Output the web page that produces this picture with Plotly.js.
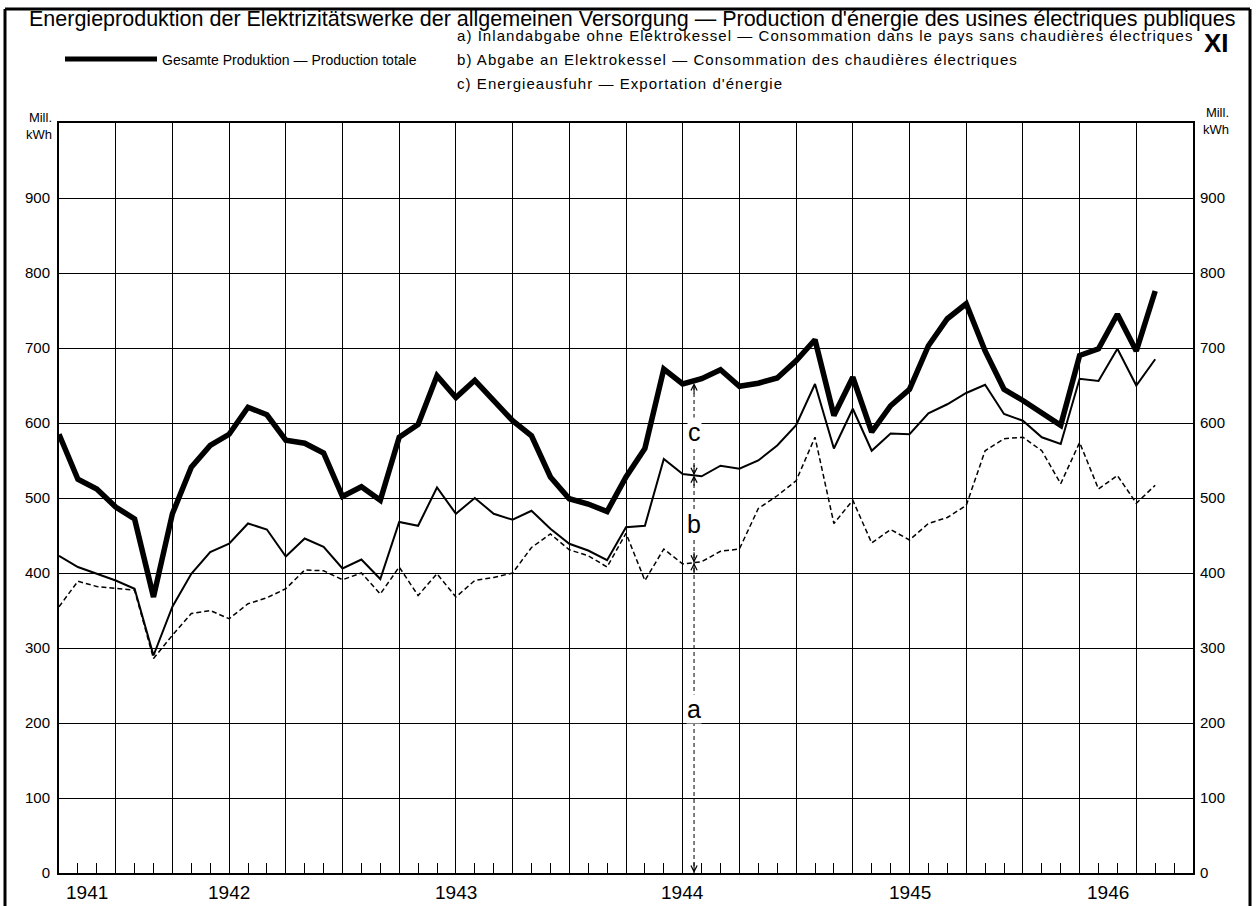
<!DOCTYPE html>
<html>
<head>
<meta charset="utf-8">
<script src="https://cdn.plot.ly/plotly-3.0.1.min.js"></script>
<style>
html,body{margin:0;padding:0;background:#fff;}
#chart{width:1259px;height:906px;}
</style>
</head>
<body>
<div id="chart"></div>
<script>
// Month index (0 = first month shown, one point per month)
const months = [0,1,2,3,4,5,6,7,8,9,10,11,12,13,14,15,16,17,18,19,20,21,22,23,24,25,26,27,28,29,30,31,32,33,34,35,36,37,38,39,40,41,42,43,44,45,46,47,48,49,50,51,52,53,54,55,56,57,58];
// Gesamte Produktion — Production totale (Mill. kWh)
const totalProduction = [585,525,512,488,472,368,479,541,570,585,621,611,577,573,560,502,515,497,581,598,663,634,657,630,603,583,528,499,492,482,528,566,672,652,659,671,649,653,660,683,711,610,661,588,623,645,703,739,759,696,645,630,614,597,690,699,745,696,776];
// a + b: Inlandabgabe + Abgabe an Elektrokessel
const inlandPlusBoilers = [423,408,399,390,379,290,355,399,428,439,466,458,422,446,435,406,418,392,468,463,514,479,500,479,471,483,459,439,430,417,461,463,552,532,529,543,539,550,570,597,652,566,619,563,586,585,613,625,640,651,612,603,581,572,659,656,699,650,685];
// a: Inlandabgabe ohne Elektrokessel
const inlandWithoutBoilers = [355,389,382,379,377,286,317,346,350,339,359,367,379,404,403,391,400,372,408,370,399,368,390,394,400,434,452,431,423,408,453,390,432,412,415,429,432,486,503,523,581,466,497,440,458,444,466,474,490,563,579,581,563,519,574,512,530,493,517];

const yearLabels = ['1941','1942','1943','1944','1945','1946'];
const yTickValues = [0,100,200,300,400,500,600,700,800,900];
const yTickLabels = ['0','100','200','300','400','500','600','700','800','900'];

const titleText = 'Energieproduktion der Elektrizitätswerke der allgemeinen Versorgung — Production d\'énergie des usines électriques publiques';
const legendTotal = 'Gesamte Produktion — Production totale';
const legendA = 'a) Inlandabgabe ohne Elektrokessel — Consommation dans le pays sans chaudières électriques';
const legendB = 'b) Abgabe an Elektrokessel — Consommation des chaudières électriques';
const legendC = 'c) Energieausfuhr — Exportation d\'énergie';
const plateNumber = 'XI';
const unitText = 'Mill.<br>kWh';

// layout geometry
const W = 1259, H = 906;
const M = {l:59, r:66, t:123, b:33};
const PW = W - M.l - M.r, PH = H - M.t - M.b;
const px = x => (x - M.l) / PW;
const py = y => (H - M.b - y) / PH;
const XMAX = 60;
const firstYearStart = 3; // month index where the "1942" year begins

const FONT = 'Liberation Sans, Arial, Helvetica, sans-serif';

const traces = [
  {x: months, y: inlandWithoutBoilers, mode:'lines', line:{color:'#000', width:1.5, dash:'5px,3px'}, hoverinfo:'skip', showlegend:false},
  {x: months, y: inlandPlusBoilers, mode:'lines', line:{color:'#000', width:2}, hoverinfo:'skip', showlegend:false},
  {x: months, y: totalProduction, mode:'lines', line:{color:'#000', width:5.5}, hoverinfo:'skip', showlegend:false},
  {x: [0], y: [0], yaxis:'y2', mode:'markers', marker:{opacity:0}, hoverinfo:'skip', showlegend:false}
];

const annotations = [];
const shapes = [];

// title and legend texts
annotations.push({xref:'paper', yref:'paper', x:px(27), y:py(19), xanchor:'left', yanchor:'middle', text:titleText, showarrow:false, font:{family:FONT, size:21.5, color:'#000'}});
annotations.push({xref:'paper', yref:'paper', x:px(160), y:py(60), xanchor:'left', yanchor:'middle', text:legendTotal, showarrow:false, font:{family:FONT, size:14, color:'#000'}});
const spaced = [legendA, legendB, legendC];
annotations.push({xref:'paper', yref:'paper', x:px(455), y:py(36), xanchor:'left', yanchor:'middle', text:legendA, showarrow:false, font:{family:FONT, size:15, color:'#000'}});
annotations.push({xref:'paper', yref:'paper', x:px(455), y:py(60), xanchor:'left', yanchor:'middle', text:legendB, showarrow:false, font:{family:FONT, size:15, color:'#000'}});
annotations.push({xref:'paper', yref:'paper', x:px(455), y:py(84), xanchor:'left', yanchor:'middle', text:legendC, showarrow:false, font:{family:FONT, size:15, color:'#000'}});
annotations.push({xref:'paper', yref:'paper', x:px(1216), y:py(43), xanchor:'center', yanchor:'middle', text:'<b>'+plateNumber+'</b>', showarrow:false, font:{family:FONT, size:26, color:'#000'}});
annotations.push({xref:'paper', yref:'paper', x:px(54), y:py(126), xanchor:'right', yanchor:'middle', text:unitText, showarrow:false, align:'right', font:{family:FONT, size:13, color:'#000'}});
annotations.push({xref:'paper', yref:'paper', x:px(1201), y:py(121), xanchor:'left', yanchor:'middle', text:unitText, showarrow:false, align:'right', font:{family:FONT, size:13, color:'#000'}});

// legend sample line
shapes.push({type:'line', xref:'paper', yref:'paper', x0:px(65), x1:px(157), y0:py(59), y1:py(59), line:{color:'#000', width:5}});

// outer frame (four sides)
const fL = px(5), fR = px(1250), fT = py(9), fB = py(920);
shapes.push({type:'line', xref:'paper', yref:'paper', x0:fL, x1:fR, y0:fT, y1:fT, line:{color:'#000', width:3}});
shapes.push({type:'line', xref:'paper', yref:'paper', x0:fL, x1:fL, y0:fT, y1:fB, line:{color:'#000', width:3}});
shapes.push({type:'line', xref:'paper', yref:'paper', x0:fR, x1:fR, y0:fT, y1:fB, line:{color:'#000', width:3}});

// year labels, centred on visible part of each year
yearLabels.forEach((lbl, i) => {
  const s = firstYearStart + 12*(i-1);
  const a = Math.max(0, s), b = Math.min(XMAX, s+12);
  annotations.push({xref:'x', yref:'paper', x:(a+b)/2, y:py(892), xanchor:'center', yanchor:'middle', text:lbl, showarrow:false, font:{family:FONT, size:19, color:'#000'}});
});

// measuring arrow with a / b / c
const markerMonth = 33.6;
const interp = arr => { const i = Math.floor(markerMonth), f = markerMonth - i; return arr[i] + f*(arr[i+1]-arr[i]); };
const vTop = interp(totalProduction) - 3;
const vMid = interp(inlandPlusBoilers);
const vLow = interp(inlandWithoutBoilers);
shapes.push({type:'line', xref:'x', yref:'y', x0:markerMonth, x1:markerMonth, y0:0, y1:vTop, line:{color:'#000', width:1, dash:'4px,3px'}});
const arrowAt = (v, dir) => annotations.push({xref:'x', yref:'y', x:markerMonth, y:v, ax:0, ay:dir*12, text:'', showarrow:true, arrowhead:5, arrowsize:1.1, arrowwidth:1.1, arrowcolor:'#000', standoff:0});
arrowAt(vTop, 1);
arrowAt(vMid, -1); arrowAt(vMid, 1);
arrowAt(vLow, -1); arrowAt(vLow, 1);
arrowAt(0, -1);
const segLabel = (t, v) => annotations.push({xref:'x', yref:'y', x:markerMonth, y:v, text:t, showarrow:false, bgcolor:'#fff', borderpad:0, font:{family:FONT, size:25, color:'#000'}});
segLabel('c', (vTop+vMid)/2 - 4);
segLabel('b', (vMid+vLow)/2 - 6);
segLabel('a', vLow*0.53);

const layout = {
  width: W, height: H,
  margin: M,
  paper_bgcolor:'#fff', plot_bgcolor:'#fff',
  showlegend:false,
  font:{family:FONT, color:'#000'},
  xaxis:{
    range:[0, XMAX], tick0:0, dtick:3, showticklabels:false,
    showgrid:true, gridcolor:'#000', gridwidth:1,
    ticks:'inside', ticklen:10, tickcolor:'#000', tickwidth:1,
    minor:{tick0:0, dtick:1, ticks:'inside', ticklen:10, tickcolor:'#000', tickwidth:1, showgrid:false},
    showline:true, linecolor:'#000', linewidth:2, mirror:true, zeroline:false, fixedrange:true
  },
  yaxis:{
    range:[0,1000], tickmode:'array', tickvals:yTickValues, ticktext:yTickLabels,
    showgrid:true, gridcolor:'#000', gridwidth:1, ticks:'', ticklabelstandoff:4,
    tickfont:{family:FONT, size:15, color:'#000'},
    showline:true, linecolor:'#000', linewidth:2, mirror:true, zeroline:false, fixedrange:true
  },
  yaxis2:{
    overlaying:'y', side:'right', range:[0,1000], tickmode:'array', tickvals:yTickValues, ticktext:yTickLabels,
    showgrid:false, ticks:'', ticklabelstandoff:6, tickfont:{family:FONT, size:15, color:'#000'},
    showline:false, zeroline:false, fixedrange:true
  },
  annotations: annotations,
  shapes: shapes
};

Plotly.newPlot('chart', traces, layout, {displayModeBar:false, staticPlot:true}).then(gd => {
  // the printed a/b/c legend lines are letter-spaced; keep their left edge fixed
  gd.querySelectorAll('text.annotation-text').forEach(t => {
    if (!spaced.includes(t.textContent)) return;
    const b0 = t.getBBox();
    t.style.letterSpacing = '1.05px';
    const b1 = t.getBBox();
    const dx = b0.x - b1.x;
    const tr = t.getAttribute('transform') || '';
    t.setAttribute('transform', (tr + ' translate(' + dx + ',0)').trim());
  });
});
</script>
</body>
</html>
